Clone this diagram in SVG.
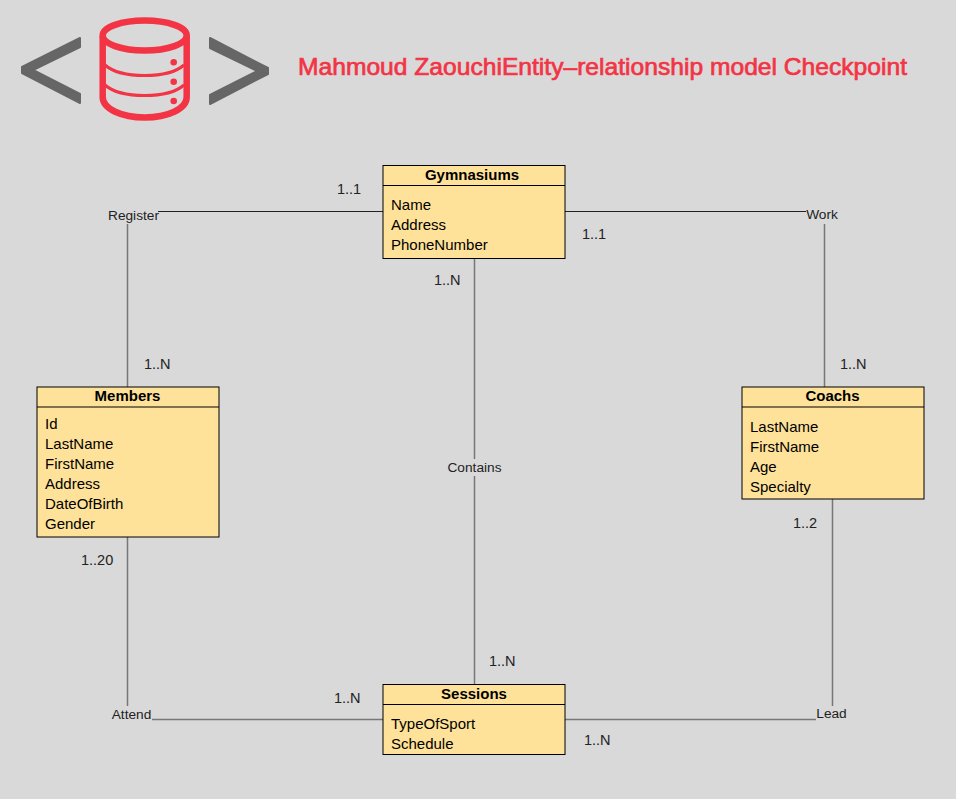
<svg xmlns="http://www.w3.org/2000/svg" width="956" height="799" viewBox="0 0 956 799">
<style>
text{font-family:"Liberation Sans",Arial,sans-serif;fill:#000}
.box{fill:#ffe299;stroke:#000;stroke-width:1}
.head{font-size:15px;font-weight:bold;text-anchor:middle}
.attr{font-size:15px}
.card{font-size:14.5px;fill:#222}
.rel{font-size:13.7px;fill:#222}
.hl{stroke:#000;stroke-width:1}
.dark{stroke:#222;stroke-width:1;fill:none}
.grey{stroke:#777;stroke-width:1.500;fill:none}
.chev{fill:#666;stroke:#666;stroke-width:2;stroke-linejoin:round}
.db{fill:none;stroke:#f33445;stroke-width:6.500}
.db2{fill:none;stroke:#f33445;stroke-width:3}
</style>
<rect width="956" height="799" fill="#d9d9d9"/>
<g id="logo">
<polygon class="chev" points="80,38 80,47 33,70 80,94 80,103 22,73 22,67"/>
<polygon class="chev" points="210,38 210,48 257,71 210,95 210,104 268,74 268,68"/>
<ellipse class="db" cx="144.700" cy="35.500" rx="42" ry="15"/>
<path class="db" d="M102.700 36V97C102.700 109 122 117.500 144.700 117.500S186.700 109 186.700 97V36"/>
<path class="db2" d="M105 65C113 72 128 75.500 144.700 75.500S176 72 184 65"/>
<path class="db2" d="M105 85C113 92 128 95.500 144.700 95.500S176 92 184 85"/>
<circle cx="173.700" cy="62.300" r="3.300" fill="#f33445"/>
<circle cx="173.700" cy="81.700" r="3.300" fill="#f33445"/>
<circle cx="173.700" cy="101" r="3.300" fill="#f33445"/>
</g>
<text id="title" x="298" y="75" textLength="609" lengthAdjust="spacingAndGlyphs" style="font-size:24.500px;fill:#f33445;stroke:#f33445;stroke-width:.7">Mahmoud ZaouchiEntity–relationship model Checkpoint</text>
<g id="connectors">
<path class="dark" d="M158 211.500H383"/>
<path class="dark" d="M565 211.500H806"/>
<path class="grey" d="M127.500 224V387"/>
<path class="grey" d="M824.500 224V387"/>
<path class="grey" d="M474.500 258V459"/>
<path class="grey" d="M474.500 476V685"/>
<path class="grey" d="M127.500 537V706"/>
<path class="grey" d="M152 719.500H383"/>
<path class="grey" d="M565 719.500H816"/>
<path class="grey" d="M832.500 499V706"/>
</g>
<g id="labels">
<text class="rel" x="133.500" y="220" text-anchor="middle">Register</text>
<text class="rel" x="822" y="219" text-anchor="middle">Work</text>
<text class="rel" x="474.500" y="472" text-anchor="middle">Contains</text>
<text class="rel" x="131.500" y="719" text-anchor="middle">Attend</text>
<text class="rel" x="831.500" y="718" text-anchor="middle">Lead</text>
<text class="card" x="337" y="194">1..1</text>
<text class="card" x="582" y="239">1..1</text>
<text class="card" x="434" y="285">1..N</text>
<text class="card" x="144" y="369">1..N</text>
<text class="card" x="840" y="369">1..N</text>
<text class="card" x="81" y="565">1..20</text>
<text class="card" x="793" y="528">1..2</text>
<text class="card" x="489" y="666">1..N</text>
<text class="card" x="334" y="703">1..N</text>
<text class="card" x="584" y="745">1..N</text>
</g>
<g id="gymnasiums">
<rect class="box" x="383" y="165.500" width="182" height="93"/>
<line class="hl" x1="383" y1="185.500" x2="565" y2="185.500"/>
<text class="head" x="472" y="179.500">Gymnasiums</text>
<text class="attr" x="391" y="210">Name</text>
<text class="attr" x="391" y="230">Address</text>
<text class="attr" x="391" y="250">PhoneNumber</text>
</g>
<g id="members">
<rect class="box" x="37" y="387" width="182" height="150"/>
<line class="hl" x1="37" y1="407" x2="219" y2="407"/>
<text class="head" x="127.500" y="401">Members</text>
<text class="attr" x="45" y="429">Id</text>
<text class="attr" x="45" y="449">LastName</text>
<text class="attr" x="45" y="469">FirstName</text>
<text class="attr" x="45" y="489">Address</text>
<text class="attr" x="45" y="509">DateOfBirth</text>
<text class="attr" x="45" y="529">Gender</text>
</g>
<g id="coachs">
<rect class="box" x="742" y="387" width="182" height="112"/>
<line class="hl" x1="742" y1="407" x2="924" y2="407"/>
<text class="head" x="832.500" y="401">Coachs</text>
<text class="attr" x="750" y="432">LastName</text>
<text class="attr" x="750" y="452">FirstName</text>
<text class="attr" x="750" y="472">Age</text>
<text class="attr" x="750" y="492">Specialty</text>
</g>
<g id="sessions">
<rect class="box" x="383" y="684.500" width="182" height="70"/>
<line class="hl" x1="383" y1="704.500" x2="565" y2="704.500"/>
<text class="head" x="474" y="699">Sessions</text>
<text class="attr" x="391" y="729">TypeOfSport</text>
<text class="attr" x="391" y="749">Schedule</text>
</g>
</svg>
